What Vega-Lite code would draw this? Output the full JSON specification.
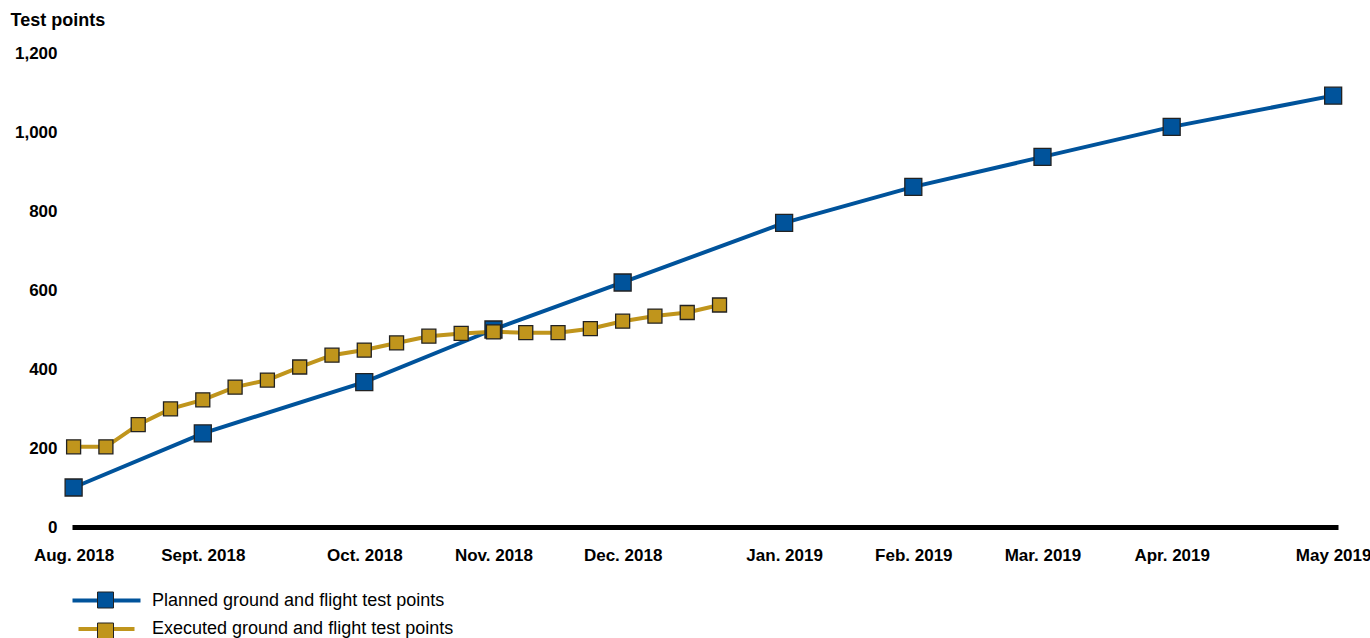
{
  "$schema": "https://vega.github.io/schema/vega-lite/v6.json",
  "autosize": "none",
  "width": 1266,
  "height": 474,
  "padding": {"left": 72, "top": 53, "right": 32, "bottom": 111},
  "background": "white",
  "config": {
    "view": {"stroke": null},
    "font": "Liberation Sans"
  },
  "data": {
    "values": [
      {"series": "Planned ground and flight test points", "week": 0, "value": 100},
      {"series": "Planned ground and flight test points", "week": 4, "value": 237},
      {"series": "Planned ground and flight test points", "week": 9, "value": 367},
      {"series": "Planned ground and flight test points", "week": 13, "value": 500},
      {"series": "Planned ground and flight test points", "week": 17, "value": 619},
      {"series": "Planned ground and flight test points", "week": 22, "value": 770},
      {"series": "Planned ground and flight test points", "week": 26, "value": 861},
      {"series": "Planned ground and flight test points", "week": 30, "value": 937},
      {"series": "Planned ground and flight test points", "week": 34, "value": 1013},
      {"series": "Planned ground and flight test points", "week": 39, "value": 1092},
      {"series": "Executed ground and flight test points", "week": 0, "value": 203},
      {"series": "Executed ground and flight test points", "week": 1, "value": 203},
      {"series": "Executed ground and flight test points", "week": 2, "value": 259},
      {"series": "Executed ground and flight test points", "week": 3, "value": 299},
      {"series": "Executed ground and flight test points", "week": 4, "value": 322},
      {"series": "Executed ground and flight test points", "week": 5, "value": 354},
      {"series": "Executed ground and flight test points", "week": 6, "value": 372},
      {"series": "Executed ground and flight test points", "week": 7, "value": 405},
      {"series": "Executed ground and flight test points", "week": 8, "value": 435},
      {"series": "Executed ground and flight test points", "week": 9, "value": 448},
      {"series": "Executed ground and flight test points", "week": 10, "value": 466},
      {"series": "Executed ground and flight test points", "week": 11, "value": 483},
      {"series": "Executed ground and flight test points", "week": 12, "value": 490},
      {"series": "Executed ground and flight test points", "week": 13, "value": 494},
      {"series": "Executed ground and flight test points", "week": 14, "value": 492},
      {"series": "Executed ground and flight test points", "week": 15, "value": 492},
      {"series": "Executed ground and flight test points", "week": 16, "value": 502},
      {"series": "Executed ground and flight test points", "week": 17, "value": 521},
      {"series": "Executed ground and flight test points", "week": 18, "value": 534},
      {"series": "Executed ground and flight test points", "week": 19, "value": 543},
      {"series": "Executed ground and flight test points", "week": 20, "value": 562}
    ]
  },
  "encoding": {
    "x": {
      "field": "week",
      "type": "quantitative",
      "scale": {"domain": [-0.05, 39.15], "nice": false, "zero": false},
      "axis": {
        "title": null,
        "values": [0, 4, 9, 13, 17, 22, 26, 30, 34, 39],
        "labelExpr": "datum.value == 0 ? 'Aug. 2018' : datum.value == 4 ? 'Sept. 2018' : datum.value == 9 ? 'Oct. 2018' : datum.value == 13 ? 'Nov. 2018' : datum.value == 17 ? 'Dec. 2018' : datum.value == 22 ? 'Jan. 2019' : datum.value == 26 ? 'Feb. 2019' : datum.value == 30 ? 'Mar. 2019' : datum.value == 34 ? 'Apr. 2019' : 'May 2019'",
        "labelFont": "Liberation Sans",
        "labelFontSize": 17,
        "labelFontWeight": "bold",
        "labelColor": "black",
        "labelPadding": 20,
        "labelAlign": "center",
        "labelOverlap": false,
        "labelFlush": false,
        "labelBound": false,
        "ticks": false,
        "grid": false,
        "domain": true,
        "domainColor": "black",
        "domainWidth": 5
      }
    },
    "y": {
      "field": "value",
      "type": "quantitative",
      "scale": {"domain": [0, 1200], "nice": false},
      "axis": {
        "title": "Test points",
        "titleAngle": 0,
        "titleX": -62,
        "titleY": -33,
        "titleAlign": "left",
        "titleBaseline": "middle",
        "titleFont": "Liberation Sans",
        "titleFontSize": 18,
        "titleFontWeight": "bold",
        "titleColor": "black",
        "values": [0, 200, 400, 600, 800, 1000, 1200],
        "format": ",d",
        "labelFont": "Liberation Sans",
        "labelFontSize": 17,
        "labelFontWeight": "bold",
        "labelColor": "black",
        "labelPadding": 15,
        "ticks": false,
        "grid": false,
        "domain": false
      }
    }
  },
  "layer": [
    {
      "mark": {"type": "line", "strokeWidth": 4},
      "encoding": {
        "color": {
          "field": "series",
          "type": "nominal",
          "scale": {
            "domain": ["Planned ground and flight test points", "Executed ground and flight test points"],
            "range": ["#00539b", "#c0951c"]
          },
          "legend": {
            "title": null,
            "orient": "none",
            "legendX": 24,
            "legendY": 537,
            "padding": 0,
            "rowPadding": 10,
            "symbolType": "M-4,0H4",
            "symbolSize": 256,
            "symbolStrokeWidth": 4,
            "labelFont": "Liberation Sans",
            "labelFontSize": 18,
            "labelLimit": 500,
            "labelColor": "black",
            "labelOffset": 35
          }
        }
      }
    },
    {
      "mark": {"type": "point", "shape": "square", "filled": true, "opacity": 1, "stroke": "#222222", "strokeWidth": 1.3},
      "encoding": {
        "fill": {
          "field": "series",
          "type": "nominal",
          "sort": ["Planned ground and flight test points", "Executed ground and flight test points"],
          "scale": {
            "range": ["#00539b", "#c0951c"]
          },
          "legend": {
            "title": null,
            "orient": "none",
            "legendX": 24.5,
            "legendY": 538,
            "padding": 0,
            "rowPadding": 11,
            "symbolType": "square",
            "symbolSize": 256,
            "symbolOpacity": 1,
            "symbolStrokeColor": "#222222",
            "symbolStrokeWidth": 1,
            "labelExpr": "''",
            "labelFontSize": 18,
            "labelOffset": 39
          }
        },
        "size": {
          "field": "series",
          "type": "nominal",
          "scale": {
            "domain": ["Planned ground and flight test points", "Executed ground and flight test points"],
            "range": [289, 196]
          },
          "legend": null
        }
      }
    }
  ]
}
